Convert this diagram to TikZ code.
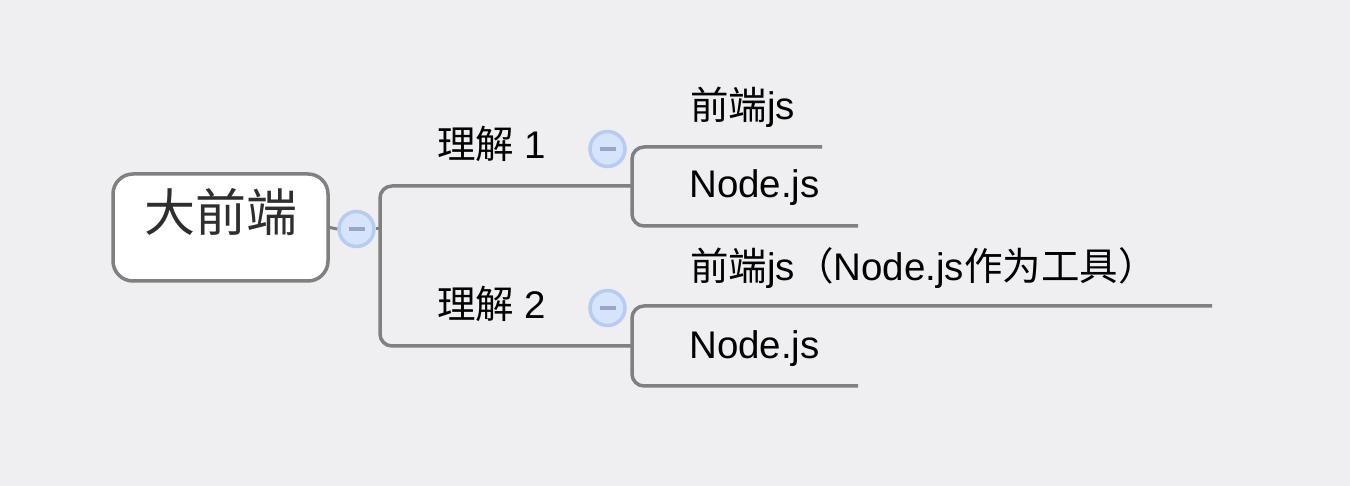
\documentclass[tikz,border=0pt]{standalone}
\usepackage{fontspec}
\setmainfont{Liberation Sans}
\newfontfamily\cjk{Noto Sans CJK SC}
\definecolor{bgc}{HTML}{EFEFF1}
\definecolor{linec}{HTML}{808080}
\definecolor{circfill}{HTML}{D5E3FB}
\definecolor{circdraw}{HTML}{B6CCF2}
\definecolor{minusc}{HTML}{9AA3C9}
\definecolor{roottext}{HTML}{2E2E2E}
\begin{document}
\begin{tikzpicture}[x=1pt,y=-1pt,
  conn/.style={draw=linec,line width=3.5pt,rounded corners=12pt},
  rootbox/.style={draw=linec,line width=3.5pt,fill=white,rounded corners=20pt,
    minimum width=215pt,minimum height=107pt,inner sep=0pt,
    font=\cjk\fontsize{51}{54}\selectfont,text=roottext,
    text height=0.83em,text depth=0.07em},
  toggle/.style={circle,fill=circfill,draw=circdraw,line width=3.5pt,
    minimum size=35pt,inner sep=0pt},
  minusbar/.style={draw=minusc,line width=4pt},
  lbl/.style={anchor=base west,inner sep=0pt,font=\fontsize{38.5}{42}\selectfont,text=black}]
\fill[bgc] (0,0) rectangle (1350,486);
\useasboundingbox (0,0) rectangle (1350,486);

% root
\node[rootbox] (root) at (220.5,227.5) {大前端};
\node[toggle] (c0) at (356.5,229) {};
\node[toggle] (c1) at (607.5,149) {};
\node[toggle] (c2) at (607.5,308) {};
\foreach \c in {c0,c1,c2}{
  \draw[minusbar] ([xshift=-8pt]\c.center) -- ([xshift=8pt]\c.center);
}

% junction coordinates
\coordinate (j0) at (380,229);
\coordinate (b1) at (632,186);
\coordinate (b2) at (632,346);
\coordinate (e11) at (822,147);
\coordinate (e12) at (858,226);
\coordinate (e21) at (1212,306);
\coordinate (e22) at (858,386);

% connectors
\draw[draw=linec,line width=3pt] (root.east) -- (c0.west);
\draw[draw=linec,line width=3pt] (c0.east) -- (j0);
\draw[conn] (b1) -| (j0) |- (b2);
\draw[conn] (e11) -| (b1) |- (e12);
\draw[conn] (e21) -| (b2) |- (e22);

% labels
\node[lbl] (l1) at (437,159) {{\cjk 理解} 1};
\node[lbl] (l2) at (437,319) {{\cjk 理解} 2};
\node[lbl] (n11) at (690,120) {{\cjk 前端}js};
\node[lbl] (n12) at (689,198) {Node.js};
\node[lbl] (n21) at (690,281) {{\cjk 前端}js{\cjk （}Node.js{\cjk 作为工具）}};
\node[lbl] (n22) at (689,359) {Node.js};
\end{tikzpicture}
\end{document}
